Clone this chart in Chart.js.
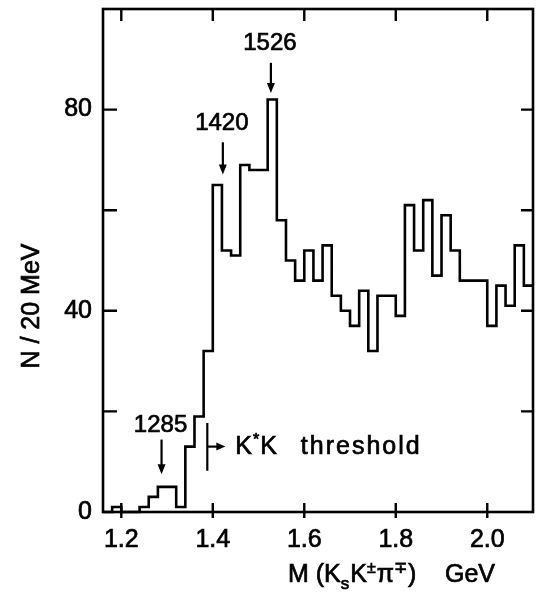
<!DOCTYPE html>
<html>
<head>
<meta charset="utf-8">
<script src="https://cdn.jsdelivr.net/npm/chart.js@4.4.1/dist/chart.umd.min.js"></script>
<style>
  html, body { margin: 0; padding: 0; background: #fff; }
  #wrap { width: 547px; height: 594px; }
</style>
</head>
<body>
<div id="wrap"><canvas id="c" width="547" height="594"></canvas></div>
<script>
// ---- data ----
const binEdges = [1.16, 1.18, 1.20, 1.22, 1.24, 1.26, 1.28, 1.30, 1.32, 1.34,
                  1.36, 1.38, 1.40, 1.42, 1.44, 1.46, 1.48, 1.50, 1.52, 1.54,
                  1.56, 1.58, 1.60, 1.62, 1.64, 1.66, 1.68, 1.70, 1.72, 1.74,
                  1.76, 1.78, 1.80, 1.82, 1.84, 1.86, 1.88, 1.90, 1.92, 1.94,
                  1.96, 1.98, 2.00, 2.02, 2.04, 2.06, 2.08, 2.10];
const counts = [0, 1, 0, 0, 1, 3, 5, 5, 1, 13,
                19, 32, 65, 52, 51, 69, 68, 68, 82, 58,
                50, 46, 52, 46, 53, 43, 40, 37, 44, 32,
                43, 43, 39, 61, 52, 62, 47, 59, 52, 46,
                46, 46, 37, 45, 41, 53, 45];
const xTickValues = [1.2, 1.4, 1.6, 1.8, 2.0];
const yTickValues = [0, 20, 40, 60, 80];
const yTickLabels = ['0', '', '40', '', '80'];
const peakLabels = ['1285', '1420', '1526'];
const peakMasses = [1.288, 1.422, 1.527];
const thresholdMass = 1.388;
const thresholdText = 'threshold';
const yTitle = 'N / 20 MeV';
const xTitleUnit = 'GeV';

// ---- annotation layout (data coordinates) ----
const peakTextY = [17.3, 77.3, 93.2];
const peakArrowTop = [14.4, 73.5, 89.3];
const peakArrowTip = [7.5, 67.1, 83.3];

const FONT = '"Liberation Sans", Arial, sans-serif';
const STROKE = 0.7;

const points = binEdges.map((e, i) => ({ x: e, y: counts[Math.min(i, counts.length - 1)] }));

function boldText(ctx, t, x, y) {
  ctx.fillText(t, x, y);
  ctx.strokeText(t, x, y);
}

const decor = {
  id: 'decor',
  afterDatasetsDraw(chart) {
    const { ctx, chartArea: a, scales: { x, y } } = chart;
    ctx.save();
    ctx.strokeStyle = '#000';
    ctx.fillStyle = '#000';
    ctx.lineCap = 'butt';
    // frame
    ctx.lineWidth = 2.6;
    ctx.strokeRect(a.left, a.top, a.right - a.left, a.bottom - a.top);
    // tick marks
    ctx.lineWidth = 2.4;
    ctx.beginPath();
    xTickValues.forEach(v => {
      const px = x.getPixelForValue(v);
      ctx.moveTo(px, a.top); ctx.lineTo(px, a.top + 12);
      ctx.moveTo(px, a.bottom - 9); ctx.lineTo(px, a.bottom + 6);
    });
    yTickValues.slice(1).forEach(v => {
      const py = y.getPixelForValue(v);
      ctx.moveTo(a.left, py); ctx.lineTo(a.left + 14, py);
      ctx.moveTo(a.right, py); ctx.lineTo(a.right - 12, py);
    });
    ctx.stroke();

    // peak labels + arrows
    ctx.font = '24px ' + FONT;
    ctx.textAlign = 'center';
    ctx.textBaseline = 'middle';
    peakLabels.forEach((t, i) => {
      const px = x.getPixelForValue(peakMasses[i]);
      ctx.lineWidth = STROKE;
      boldText(ctx, t, px - 1, y.getPixelForValue(peakTextY[i]));
      const y1 = y.getPixelForValue(peakArrowTop[i]);
      const y2 = y.getPixelForValue(peakArrowTip[i]);
      ctx.lineWidth = 2.2;
      ctx.beginPath(); ctx.moveTo(px, y1); ctx.lineTo(px, y2 - 6); ctx.stroke();
      ctx.beginPath();
      ctx.moveTo(px - 4, y2 - 10); ctx.lineTo(px, y2); ctx.lineTo(px + 4, y2 - 10);
      ctx.closePath(); ctx.fill();
    });

    // K*K threshold marker
    const tx = x.getPixelForValue(thresholdMass);
    const ty1 = y.getPixelForValue(17.7), ty2 = y.getPixelForValue(8.2);
    const ay = y.getPixelForValue(13.0);
    ctx.lineWidth = 2.2;
    ctx.beginPath(); ctx.moveTo(tx, ty1); ctx.lineTo(tx, ty2); ctx.stroke();
    ctx.beginPath(); ctx.moveTo(tx, ay); ctx.lineTo(tx + 12, ay); ctx.stroke();
    ctx.beginPath(); ctx.moveTo(tx + 9, ay - 4); ctx.lineTo(tx + 18, ay); ctx.lineTo(tx + 9, ay + 4); ctx.closePath(); ctx.fill();
    ctx.textAlign = 'left';
    ctx.textBaseline = 'alphabetic';
    ctx.lineWidth = STROKE;
    const base = y.getPixelForValue(11.6);
    ctx.font = '25px ' + FONT;
    let cx = tx + 28;
    boldText(ctx, 'K', cx, base); cx += ctx.measureText('K').width + 1;
    ctx.font = '16px ' + FONT;
    boldText(ctx, '*', cx, base - 9); cx += ctx.measureText('*').width + 1;
    ctx.font = '25px ' + FONT;
    boldText(ctx, 'K', cx, base); cx += ctx.measureText('K').width;
    ctx.letterSpacing = '2px';
    boldText(ctx, thresholdText, cx + 24, base);
    ctx.letterSpacing = '0px';

    // x axis title
    const tb = a.bottom + 70;
    let mx = 288;
    const runs = [
      ['M (K', 25, 0], ['s', 17, 7], ['K', 25, 0], ['\u00B1', 16, -9],
      ['\u03C0', 25, 0], ['\u2213', 16, -9], [')', 25, 0]
    ];
    runs.forEach(([t, s, dy]) => {
      ctx.font = s + 'px ' + FONT;
      boldText(ctx, t, mx, tb + dy);
      mx += ctx.measureText(t).width + (s < 20 ? 1 : 0);
    });
    ctx.font = '25px ' + FONT;
    boldText(ctx, xTitleUnit, 445, tb);

    // y axis title
    ctx.save();
    ctx.translate(32, 306);
    ctx.rotate(-Math.PI / 2);
    ctx.textAlign = 'center';
    ctx.textBaseline = 'middle';
    ctx.font = '25px ' + FONT;
    ctx.lineWidth = STROKE;
    boldText(ctx, yTitle, 0, 0);
    ctx.restore();

    ctx.restore();
  }
};

new Chart(document.getElementById('c'), {
  type: 'line',
  data: {
    datasets: [{
      data: points,
      stepped: 'before',
      borderColor: '#000',
      borderWidth: 2.6,
      pointRadius: 0,
      fill: false,
      clip: 6
    }]
  },
  options: {
    responsive: false,
    animation: false,
    events: [],
    layout: { padding: { left: 0, top: 9, right: 14, bottom: 0 } },
    plugins: { legend: { display: false }, tooltip: { enabled: false } },
    scales: {
      x: {
        type: 'linear',
        min: 1.16, max: 2.10,
        afterFit(s) { s.height = 82; s.paddingLeft = 0; s.paddingRight = 0; },
        afterBuildTicks(s) { s.ticks = xTickValues.map(v => ({ value: v })); },
        grid: { display: false, drawTicks: false },
        border: { display: false },
        ticks: {
          padding: 13,
          color: '#000',
          textStrokeColor: '#000',
          textStrokeWidth: STROKE,
          font: { family: FONT, size: 25 },
          callback: v => v.toFixed(1),
          maxRotation: 0,
          autoSkip: false
        }
      },
      y: {
        type: 'linear',
        min: 0, max: 100,
        afterFit(s) { s.width = 103; s.paddingTop = 0; s.paddingBottom = 0; },
        afterBuildTicks(s) { s.ticks = yTickValues.map(v => ({ value: v })); },
        grid: { display: false, drawTicks: false },
        border: { display: false },
        ticks: {
          padding: 11,
          color: '#000',
          textStrokeColor: '#000',
          textStrokeWidth: STROKE,
          font: { family: FONT, size: 25 },
          callback: (v, i) => yTickLabels[i]
        }
      }
    }
  },
  plugins: [decor]
});
</script>
</body>
</html>
